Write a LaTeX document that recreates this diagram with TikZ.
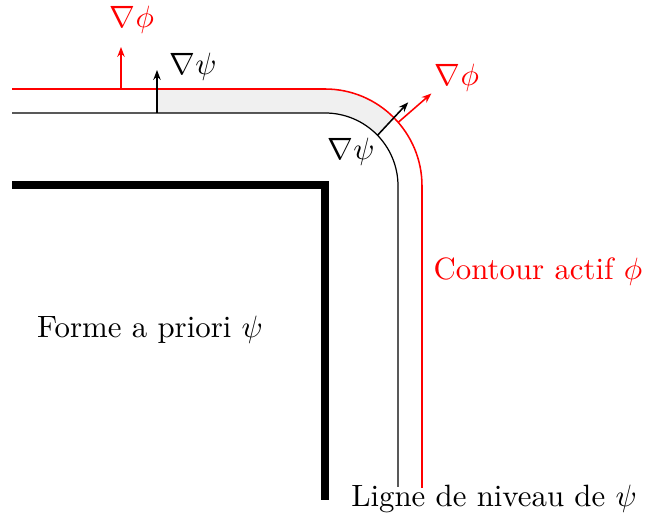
\documentclass[tikz,border=0pt]{standalone}
\usetikzlibrary{arrows.meta, calc}
\begin{document}
\begin{tikzpicture}[
    x=0.0114cm, y=0.0114cm,
    contour/.style={red, line width=0.5pt},
    niveau/.style={black, line width=0.4pt},
    forme/.style={black, line width=2.6pt, line join=miter},
    grad/.style={-{Stealth[length=3.2pt, width=2.4pt]}, line width=0.5pt},
    label/.style={inner sep=1pt}
]
\useasboundingbox (0,0) rectangle (646,520);

% bande entre la ligne de niveau et le contour
\fill[black!6] (157,407) -- (157,431) -- (325,431)
    arc[start angle=90, end angle=45, radius=97]
    -- ($(325,334)+(44:73)$) arc[start angle=44, end angle=90, radius=73] -- cycle;

% forme a priori, ligne de niveau, contour actif
\draw[forme] (12,335) -- (325,335) -- (325,20);
\draw[niveau] (12,407) -- (325,407) arc[start angle=90, end angle=0, radius=73] -- (398,33);
\draw[contour] (12,431) -- (325,431) arc[start angle=90, end angle=0, radius=97] -- (422,32);

\coordinate (c) at (325,334);
\coordinate (phiA) at (121,431);
\coordinate (phiAt) at (121,473);
\coordinate (psiA) at (157,407);
\coordinate (psiAt) at (157,450);
\coordinate (phiB) at ($(c)+(41:97)$);
\coordinate (phiBt) at ($(phiB)+(41:44)$);
\coordinate (psiB) at ($(c)+(44:73)$);
\coordinate (psiBt) at ($(psiB)+(47:45)$);

\draw[grad, red] (phiA) -- (phiAt);
\draw[grad] (psiA) -- (psiAt);
\draw[grad, red] (phiB) -- (phiBt);
\draw[grad] (psiB) -- (psiBt);

\node[label, red] (gphiA) at (132,500) {$\nabla\phi$};
\node[label] (gpsiA) at (193,453) {$\nabla\psi$};
\node[label, red] (gphiB) at (457,442) {$\nabla\phi$};
\node[label] (gpsiB) at (351,368) {$\nabla\psi$};
\node[label, red] (contour) at (538,248) {Contour actif $\phi$};
\node[label] (forme) at (150,190) {Forme a priori $\psi$};
\node[label] (niveau) at (494,21) {Ligne de niveau de $\psi$};
\end{tikzpicture}
\end{document}
